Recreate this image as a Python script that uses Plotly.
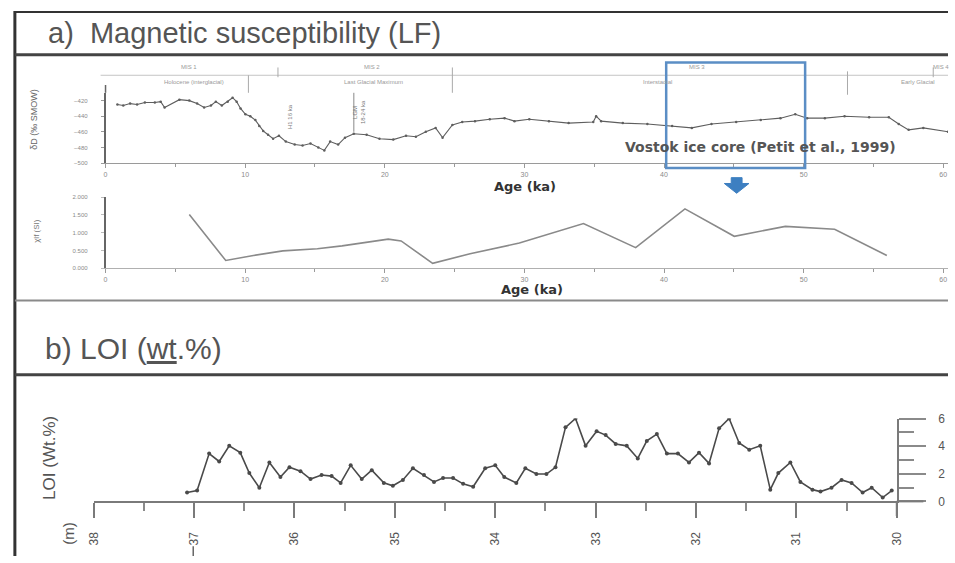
import plotly.graph_objects as go

W, H = 955, 563


def px(x):
    return x / W


def py(y):
    return 1 - y / H


# Vostok ice core deuterium record (ka, permil)
vostok_age = [0.85, 1.27, 1.76, 2.26, 2.82, 3.53, 3.95, 4.23, 5.29, 6.0, 6.56, 7.06, 7.55, 7.9,
              8.33, 8.75, 9.1, 9.39, 9.67, 10.02, 10.37, 10.73, 11.01, 11.29, 11.64, 12.0, 12.42,
              12.91, 13.55, 14.11, 14.68, 15.24, 15.67, 16.09, 16.66, 17.15, 17.78, 18.7, 19.62,
              20.61, 21.52, 22.23, 22.94, 23.64, 24.14, 24.84, 25.55, 26.46, 27.52, 28.58, 29.29,
              30.35, 31.76, 33.17, 34.93, 35.14, 35.5, 37.05, 38.81, 40.58, 41.99, 43.4, 45.17,
              46.93, 48.34, 49.4, 50.25, 51.52, 52.93, 54.69, 56.1, 56.81, 57.52, 58.57, 60.34]
vostok_dd = [-425, -426.3, -423.8, -425, -422.5, -422.5, -421.3, -428.8, -418.8, -420, -423.8,
             -428.8, -426.3, -421.3, -426.3, -421.3, -416.3, -421.3, -430, -437.5, -440, -445,
             -452.5, -458.8, -463.8, -468.8, -465, -472.5, -476.3, -477.5, -475, -480, -483.8,
             -472.5, -476.3, -467.5, -462.5, -463.8, -468.8, -470, -465, -466.3, -460, -455,
             -467.5, -451.3, -447.5, -446.3, -443.8, -442.5, -446.3, -443.8, -446.3, -448.8,
             -447.5, -440, -446.3, -448.8, -450, -452.5, -455, -450, -447.5, -445, -442.5,
             -437.5, -442.5, -442.5, -440, -441.3, -441.3, -450, -457.5, -455, -460]

# Magnetic susceptibility (LF) against age
ms_age = [6.0, 8.61, 10.59, 12.7, 15.17, 16.94, 20.25, 21.17, 23.43, 26.11, 29.64, 34.23,
          37.97, 41.5, 45.03, 48.69, 52.22, 55.96]
ms_val = [1.51, 0.22, 0.36, 0.49, 0.55, 0.63, 0.82, 0.77, 0.14, 0.41, 0.71, 1.26, 0.58,
          1.67, 0.90, 1.18, 1.10, 0.36]

# Loss on ignition against core depth (m)
loi_depth = [37.07, 36.97, 36.85, 36.75, 36.65, 36.54, 36.45, 36.35, 36.25, 36.14, 36.05,
             35.94, 35.84, 35.73, 35.63, 35.54, 35.44, 35.33, 35.23, 35.11, 35.02, 34.92,
             34.82, 34.71, 34.61, 34.52, 34.42, 34.32, 34.22, 34.10, 34.00, 33.91, 33.79,
             33.70, 33.59, 33.49, 33.40, 33.30, 33.20, 33.10, 32.99, 32.90, 32.80, 32.69,
             32.58, 32.49, 32.39, 32.29, 32.18, 32.07, 31.97, 31.87, 31.77, 31.67, 31.57,
             31.47, 31.36, 31.26, 31.18, 31.06, 30.96, 30.84, 30.76, 30.65, 30.55, 30.45,
             30.34, 30.25, 30.14, 30.05]
loi_val = [0.64, 0.78, 3.46, 2.89, 4.02, 3.53, 2.05, 0.99, 2.82, 1.76, 2.47, 2.19, 1.62,
           1.91, 1.83, 1.34, 2.61, 1.62, 2.26, 1.34, 1.13, 1.55, 2.40, 1.91, 1.41, 1.69,
           1.69, 1.27, 1.06, 2.40, 2.61, 1.76, 1.34, 2.40, 1.98, 1.98, 2.47, 5.36, 6.00,
           4.02, 5.08, 4.80, 4.16, 4.02, 3.11, 4.38, 4.87, 3.46, 3.46, 2.82, 3.53, 2.75,
           5.29, 6.00, 4.23, 3.74, 4.02, 0.85, 2.05, 2.82, 1.41, 0.85, 0.71, 0.99, 1.55,
           1.34, 0.64, 0.99, 0.28, 0.78]

age_ticks = [0, 10, 20, 30, 40, 50, 60]
dd_ticks = [-500, -480, -460, -440, -420]
ms_ticks = [0, 0.5, 1.0, 1.5, 2.0]
ms_tick_text = ["0.000", "0.500", "1.000", "1.500", "2.000"]
depth_ticks = [30, 31, 32, 33, 34, 35, 36, 37, 38]
loi_ticks = [0, 2, 4, 6]

fig = go.Figure()

fig.add_trace(go.Scatter(x=vostok_age, y=vostok_dd, mode="lines+markers",
                         line=dict(color="#5e5e5e", width=1.1),
                         marker=dict(size=2.5, color="#5e5e5e"),
                         xaxis="x", yaxis="y", showlegend=False))
fig.add_trace(go.Scatter(x=ms_age, y=ms_val, mode="lines",
                         line=dict(color="#8a8a8a", width=1.6),
                         xaxis="x2", yaxis="y2", showlegend=False))
fig.add_trace(go.Scatter(x=loi_depth, y=loi_val, mode="lines+markers",
                         line=dict(color="#4a4a4a", width=1.6),
                         marker=dict(size=4, color="#4a4a4a"),
                         xaxis="x3", yaxis="y3", showlegend=False))

small_tick = dict(size=7, color="#8a8a8a", family="Liberation Sans")

fig.update_layout(
    width=W, height=H, margin=dict(l=0, r=0, t=0, b=0),
    paper_bgcolor="white", plot_bgcolor="white",
    font=dict(family="Liberation Sans", color="#555"),
    xaxis=dict(domain=[px(100), 1], range=[0, 60.34], anchor="y",
               showline=True, linecolor="#9a9a9a", linewidth=1.2,
               ticks="outside", ticklen=4, tickcolor="#9a9a9a",
               tickvals=age_ticks, tickfont=small_tick,
               minor=dict(dtick=5, ticks="outside", ticklen=3, tickcolor="#9a9a9a"),
               showgrid=False, zeroline=False),
    yaxis=dict(domain=[py(160), py(88)], range=[-500, -410], anchor="x",
               showline=True, linecolor="#666", linewidth=1.5,
               ticks="outside", ticklen=3, tickcolor="#999",
               tickvals=dd_ticks, tickfont=dict(size=6, color="#8a8a8a"),
               ticklabelstandoff=12, showgrid=False, zeroline=False),
    xaxis2=dict(domain=[px(100), 1], range=[0, 60.34], anchor="y2",
                showline=True, linecolor="#b0b0b0", linewidth=1.2,
                ticks="outside", ticklen=4, tickcolor="#9a9a9a",
                tickvals=age_ticks, tickfont=small_tick,
                minor=dict(dtick=5, ticks="outside", ticklen=3, tickcolor="#9a9a9a"),
                showgrid=False, zeroline=False),
    yaxis2=dict(domain=[py(268), py(195)], range=[0, 2.0], anchor="x2",
                showline=True, linecolor="#666", linewidth=1.5,
                ticks="outside", ticklen=3, tickcolor="#bbb",
                tickvals=ms_ticks, ticktext=ms_tick_text,
                tickfont=dict(size=6, color="#8a8a8a"),
                ticklabelstandoff=12, showgrid=False, zeroline=False),
    xaxis3=dict(domain=[px(88), px(903)], range=[38, 30], anchor="y3",
                showline=True, linecolor="#7a7a7a", linewidth=2,
                ticks="outside", ticklen=15, tickwidth=2, tickcolor="#7a7a7a",
                tickvals=depth_ticks, tickangle=-90,
                tickfont=dict(size=12, color="#555"), ticklabelstandoff=9,
                minor=dict(tickvals=[30.5, 31.5, 32.5, 33.5, 34.5, 35.5, 36.5, 37.5],
                           ticks="outside", ticklen=8, tickwidth=2, tickcolor="#8a8a8a"),
                showgrid=False, zeroline=False),
    yaxis3=dict(domain=[py(507), py(422)], range=[0, 6], anchor="x3", side="right",
                showline=True, linecolor="#7a7a7a", linewidth=2,
                ticks="outside", ticklen=27, tickwidth=2, tickcolor="#8a8a8a",
                tickvals=loi_ticks, tickfont=dict(size=12, color="#555"),
                ticklabelstandoff=10,
                minor=dict(tickvals=[1, 3, 5], ticks="outside", ticklen=15,
                           tickwidth=2, tickcolor="#8a8a8a"),
                showgrid=False, zeroline=False),
)


# frame and section separators
def hline(y, x0, x1, color, width):
    return dict(type="line", xref="paper", yref="paper", x0=px(x0), x1=px(x1),
                y0=py(y), y1=py(y), line=dict(color=color, width=width))


def vline(x, y0, y1, color, width):
    return dict(type="line", xref="paper", yref="paper", x0=px(x), x1=px(x),
                y0=py(y0), y1=py(y1), line=dict(color=color, width=width))


shapes = [
    vline(8, 4, 563, "#333", 3),
    hline(5, 8, 955, "#333", 2),
    hline(49, 8, 955, "#444", 3),
    hline(301, 8, 955, "#8a8a8a", 2),
    hline(377, 8, 955, "#444", 3),
    # event bar above the ice-core curve
    hline(70, 95, 955, "#c4c4c4", 1),
    vline(245, 70, 88, "#aaa", 1),
    vline(275, 62, 72, "#aaa", 1),
    vline(452, 62, 88, "#aaa", 1),
    vline(853, 66, 90, "#aaa", 1),
    vline(940, 62, 72, "#aaa", 1),
    vline(352, 88, 128, "#888", 1),
    # axis extensions
    vline(100, 80, 88, "#666", 1.5),
    vline(903, 507, 522, "#7a7a7a", 2),
    hline(507, 903, 930, "#7a7a7a", 2),
    vline(189, 553, 563, "#666", 1.5),
    # selected interval
    dict(type="rect", xref="paper", yref="paper", x0=px(669), x1=px(810),
         y0=py(165), y1=py(57), line=dict(color="#5b8ec5", width=2.5)),
    dict(type="path", xref="paper", yref="paper",
         path=(f"M {px(735)},{py(175)} L {px(746)},{py(175)} L {px(746)},{py(181)} "
               f"L {px(753)},{py(181)} L {px(740.5)},{py(191)} L {px(728)},{py(181)} "
               f"L {px(735)},{py(181)} Z"),
         fillcolor="#3d7fc1", line=dict(color="#3d7fc1", width=1)),
]
fig.update_layout(shapes=shapes)


def note(x, y, text, size, color="#555", bold=False, angle=0, anchor="center",
         family="Liberation Sans"):
    if bold:
        text = f"<b>{text}</b>"
    fig.add_annotation(x=px(x), y=py(y), xref="paper", yref="paper", text=text,
                       showarrow=False, textangle=angle, xanchor=anchor, yanchor="middle",
                       font=dict(size=size, color=color, family=family))


note(40, 27, "a)  Magnetic susceptibility (LF)", 29, "#555", anchor="left")
note(37, 350, "b) LOI (<span style=\"text-decoration:underline\">wt</span>.%)", 30,
     "#555", anchor="left")

note(526, 184, "Age (ka)", 13, "#333", bold=True, family="DejaVu Sans")
note(533, 290, "Age (ka)", 13, "#333", bold=True, family="DejaVu Sans")
note(765, 144, "Vostok ice core (Petit et al., 1999)", 14, "#555", bold=True,
     family="DejaVu Sans")

note(28, 115, "δD (‰ SMOW)", 9, "#666", angle=-90)
note(30, 230, "χlf (SI)", 8, "#777", angle=-90)
note(43, 462, "LOI (Wt.%)", 17, "#555", angle=-90)
note(62, 540, "(m)", 15, "#555", angle=-90)

# stage labels along the event bar
for x, y, t in [(185, 62, "MIS 1"), (190, 77, "Holocene (interglacial)"),
                (370, 62, "MIS 2"), (372, 77, "Last Glacial Maximum"),
                (700, 62, "MIS 3"), (660, 77, "Interstadial"),
                (925, 77, "Early Glacial"), (948, 62, "MIS 4")]:
    note(x, y, t, 6, "#9a9a9a")

note(287, 112, "H1 16 ka", 6, "#777", angle=-90)
note(358, 108, "LGM<br>18-24 ka", 6, "#777", angle=-90)

fig.write_html("out.html")
